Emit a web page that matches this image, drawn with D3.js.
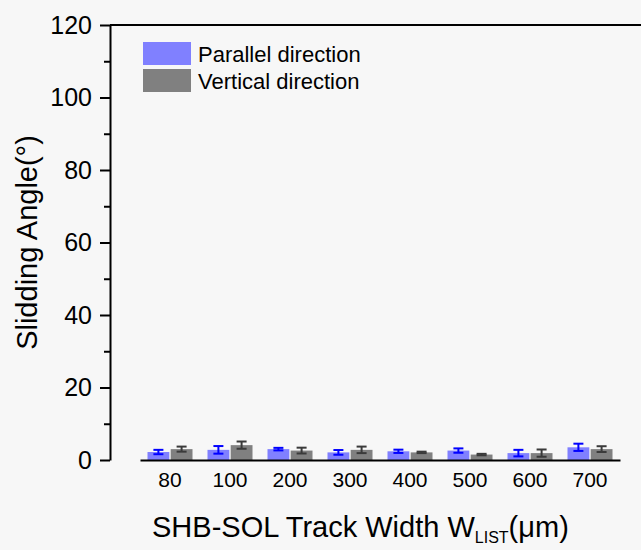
<!DOCTYPE html>
<html>
<head>
<meta charset="utf-8">
<script src="https://cdn.jsdelivr.net/npm/d3@7"></script>
<style>
  body { margin: 0; background: #f7f7f7; }
  text { font-family: Arial, "Liberation Sans", sans-serif; fill: #000; }
</style>
</head>
<body>
<div id="chart"></div>
<script>
// data
const widths = ["80", "100", "200", "300", "400", "500", "600", "700"];
const series = ["Parallel direction", "Vertical direction"];
const parallel = [2.2, 2.8, 3.0, 2.1, 2.4, 2.6, 1.9, 3.5];
const parallelErr = [0.6, 1.05, 0.35, 0.65, 0.45, 0.6, 0.9, 1.0];
const vertical = [3.0, 4.1, 2.6, 2.8, 2.1, 1.5, 1.9, 3.0];
const verticalErr = [0.7, 1.0, 0.8, 0.9, 0.2, 0.2, 1.0, 0.8];
const yTicks = [0, 20, 40, 60, 80, 100, 120];

const fills = ["#8080ff", "#808080"];
const errColors = ["#0000ff", "#3a3a3a"];

// set the dimensions and margins of the graph
const margin = { top: 25, right: -9, bottom: 90, left: 110 },
  fullWidth = 641, fullHeight = 550,
  width = fullWidth - margin.left - margin.right,
  height = fullHeight - margin.top - margin.bottom;

const svg = d3.select("#chart")
  .append("svg")
  .attr("width", fullWidth)
  .attr("height", fullHeight)
  .style("display", "block");

svg.append("rect")
  .attr("width", fullWidth)
  .attr("height", fullHeight)
  .attr("fill", "#f7f7f7");

const g = svg.append("g")
  .attr("transform", `translate(${margin.left},${margin.top})`);

// table built from the arrays
const rows = widths.map((w, i) => ({
  w,
  vals: [
    { s: 0, v: parallel[i], e: parallelErr[i] },
    { s: 1, v: vertical[i], e: verticalErr[i] }
  ]
}));

// X scales
const x0 = d3.scaleBand()
  .domain(widths)
  .range([30, 510])
  .paddingInner(0.25)
  .paddingOuter(0.125);
const x1 = d3.scaleBand()
  .domain([0, 1])
  .range([0, x0.bandwidth()])
  .paddingInner(0.06);

// Y scale
const y = d3.scaleLinear()
  .domain([0, 120])
  .range([height, 0]);

// bars
const groups = g.append("g")
  .selectAll("g")
  .data(rows)
  .join("g")
  .attr("transform", d => `translate(${x0(d.w)},0)`);

groups.selectAll("rect")
  .data(d => d.vals)
  .join("rect")
  .attr("x", d => x1(d.s))
  .attr("y", d => y(d.v))
  .attr("width", x1.bandwidth())
  .attr("height", d => y(0) - y(d.v))
  .attr("fill", d => fills[d.s]);

// error bars
const err = groups.selectAll("g.err")
  .data(d => d.vals)
  .join("g")
  .attr("class", "err")
  .attr("stroke", d => errColors[d.s])
  .attr("stroke-width", 2);
err.append("line")
  .attr("x1", d => x1(d.s) + x1.bandwidth() / 2)
  .attr("x2", d => x1(d.s) + x1.bandwidth() / 2)
  .attr("y1", d => y(d.v + d.e))
  .attr("y2", d => y(d.v - d.e));
err.append("line")
  .attr("x1", d => x1(d.s) + x1.bandwidth() / 2 - 5)
  .attr("x2", d => x1(d.s) + x1.bandwidth() / 2 + 5)
  .attr("y1", d => y(d.v + d.e))
  .attr("y2", d => y(d.v + d.e));
err.append("line")
  .attr("x1", d => x1(d.s) + x1.bandwidth() / 2 - 5)
  .attr("x2", d => x1(d.s) + x1.bandwidth() / 2 + 5)
  .attr("y1", d => y(d.v - d.e))
  .attr("y2", d => y(d.v - d.e));

// Y axis with minor ticks
const yAxis = g.append("g")
  .call(d3.axisLeft(y).tickValues(yTicks).tickSize(10).tickPadding(8).tickSizeOuter(0));
g.append("g")
  .call(d3.axisLeft(y).tickValues(d3.range(10, 120, 20)).tickSize(6).tickFormat("").tickSizeOuter(0))
  .select(".domain").remove();
yAxis.selectAll("text").style("font-size", "25px");
g.selectAll(".tick line").attr("stroke-width", 2);
yAxis.select(".domain").attr("stroke-width", 2);

// X axis (no ticks)
const xAxis = g.append("g")
  .attr("transform", `translate(0,${height})`)
  .call(d3.axisBottom(x0).tickSize(0).tickPadding(12));
xAxis.select(".domain").attr("stroke-width", 2);
xAxis.selectAll("text").style("font-size", "21px");

// top frame line
g.append("line")
  .attr("x1", 0).attr("x2", width)
  .attr("y1", 0).attr("y2", 0)
  .attr("stroke", "#000")
  .attr("stroke-width", 2);

// axis titles
svg.append("text")
  .attr("transform", `translate(37,${margin.top + height / 2}) rotate(-90)`)
  .attr("text-anchor", "middle")
  .style("font-size", "29px")
  .text("Slidding Angle(°)");

const xt = svg.append("text")
  .attr("x", 152)
  .attr("y", 537)
  .style("font-size", "29px");
xt.append("tspan").text("SHB-SOL Track Width W");
xt.append("tspan").attr("dy", 6).style("font-size", "16px").text("LIST");
xt.append("tspan").attr("dy", -6).text("(μm)");

// legend
const legend = svg.append("g")
  .selectAll("g")
  .data(series)
  .join("g")
  .attr("transform", (d, i) => `translate(143,${42 + i * 27})`);
legend.append("rect")
  .attr("width", 48)
  .attr("height", 23)
  .attr("fill", (d, i) => fills[i]);
legend.append("text")
  .attr("x", 55)
  .attr("y", 12)
  .attr("dy", "0.35em")
  .style("font-size", "22px")
  .text(d => d);
</script>
</body>
</html>
